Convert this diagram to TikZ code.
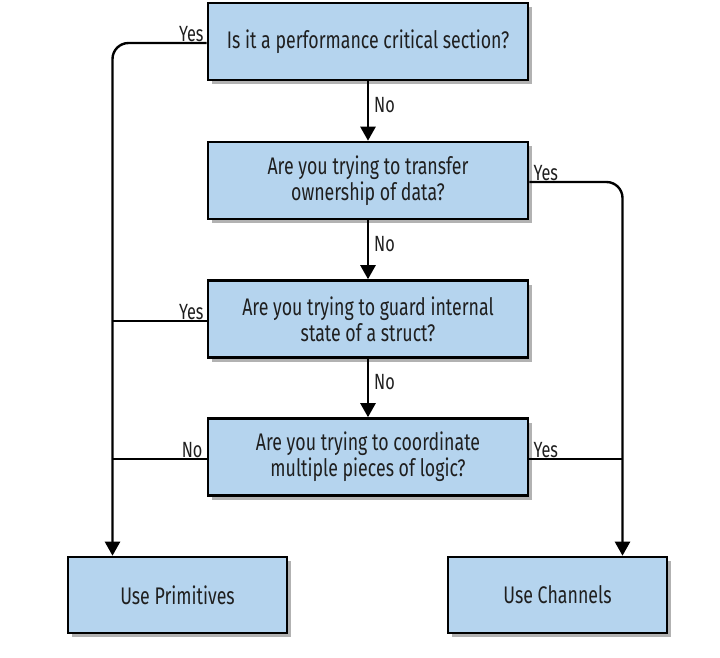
\documentclass[tikz,border=0pt]{standalone}
\usepackage{fontspec}
\setmainfont[FakeStretch=0.74]{Fira Sans}
\usetikzlibrary{arrows.meta,shadows}
\definecolor{boxblue}{RGB}{181,212,238}
\begin{document}
\begin{tikzpicture}[x=1pt,y=-1pt,
  qbox/.style={draw=black,line width=2.6pt,fill=boxblue,minimum width=320pt,minimum height=77pt,
    align=center,font=\fontsize{24}{26}\selectfont,text=black!88,
    drop shadow={shadow xshift=4pt,shadow yshift=-4pt,fill=black,opacity=0.3}},
  abox/.style={qbox,minimum width=219pt,minimum height=76pt},
  conn/.style={line width=2.4pt,rounded corners=16pt},
  arr/.style={conn,-{Triangle[width=15pt,length=14pt]}},
  lbl/.style={font=\fontsize{22}{24}\selectfont,text=black!88,inner sep=1pt}]
\useasboundingbox (0,0) rectangle (720,657);
\node[qbox] (q1) at (368,41.5) {Is it a performance critical section?};
\node[qbox] (q2) at (368,180.5) {Are you trying to transfer\\ownership of data?};
\node[qbox] (q3) at (368,319) {Are you trying to guard internal\\state of a struct?};
\node[qbox] (q4) at (368,457) {Are you trying to coordinate\\multiple pieces of logic?};
\node[abox] (p) at (177.5,595) {Use Primitives};
\node[abox] (c) at (557.5,595) {Use Channels};
% vertical arrows
\draw[arr] (q1.south) -- node[lbl,right=4pt,pos=0.4]{No} (q2.north);
\draw[arr] (q2.south) -- node[lbl,right=4pt,pos=0.4]{No} (q3.north);
\draw[arr] (q3.south) -- node[lbl,right=4pt,pos=0.4]{No} (q4.north);
% left column
\coordinate (lt) at (112.5,43);
\draw[arr] (q1.west |- lt) -- (lt) -- (p.north -| lt);
\node[lbl,anchor=south east] at ([xshift=-2pt,yshift=0pt]q1.west |- lt) {Yes};
\coordinate (l3) at (112.5,321);
\draw[conn] (q3.west |- l3) -- (l3);
\node[lbl,anchor=south east] at ([xshift=-2pt]q3.west |- l3) {Yes};
\coordinate (l4) at (112.5,459);
\draw[conn] (q4.west |- l4) -- (l4);
\node[lbl,anchor=south east] at ([xshift=-3pt]q4.west |- l4) {No};
% right column
\coordinate (rt) at (622.5,182);
\draw[arr] (q2.east |- rt) -- (rt) -- (c.north -| rt);
\node[lbl,anchor=south west] at ([xshift=3pt]q2.east |- rt) {Yes};
\coordinate (r4) at (622.5,459);
\draw[conn] (q4.east |- r4) -- (r4);
\node[lbl,anchor=south west] at ([xshift=3pt]q4.east |- r4) {Yes};
\end{tikzpicture}
\end{document}
